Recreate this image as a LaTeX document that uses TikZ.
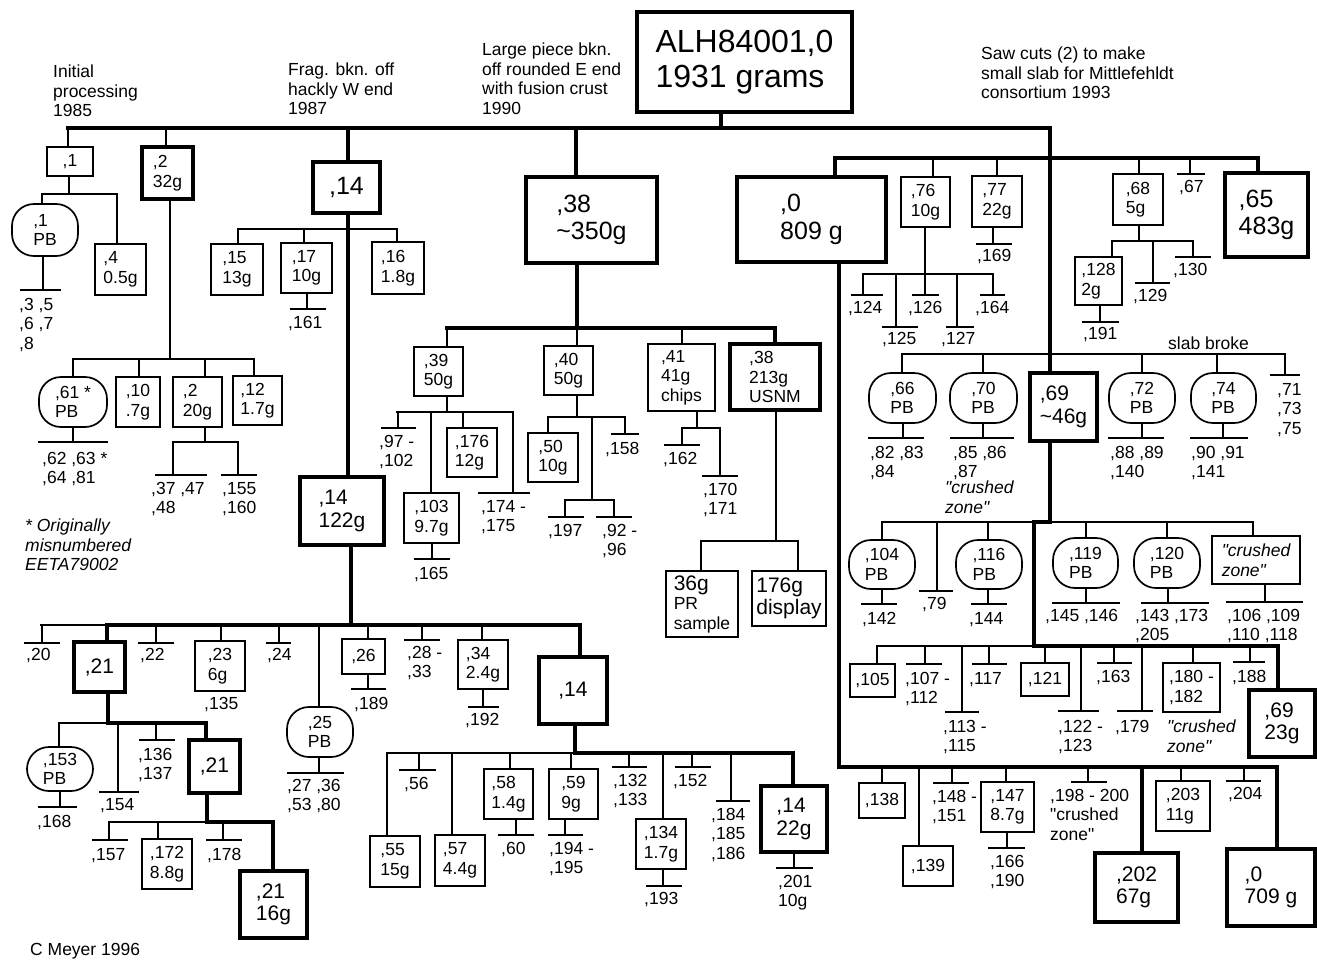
\documentclass[tikz,border=0pt]{standalone}
\usepackage{fontspec}
\setmainfont{Liberation Sans}
\newcommand\fsS{\fontsize{17.5}{19.5}\selectfont}
\newcommand\fsM{\fontsize{21}{22.5}\selectfont}
\newcommand\fsL{\fontsize{25}{27.5}\selectfont}
\newcommand\fsT{\fontsize{32}{35}\selectfont}
\newcommand\qq{\textquotedbl}
\newcommand\mybox[7]{\node[#1,minimum width={(#5)-(#3)},minimum height={(#6)-(#4)}] (#2) at ({(#3+#5)/2},{(#4+#6)/2}) {#7};}
\newcommand\vstem[4][conn]{\draw[#1] (#2,#3) -- (#2,0 |- #4);}
\newcommand\mytee[9]{\draw[conn] (#2,#3) -- (#2,#4) (#5,#4) -- (#6,#4); \node[lbl] (#1) at (#7,#8) {#9};}
\begin{document}
\begin{tikzpicture}[x=1pt,y=-1pt,
  conn/.style={line width=1.8pt,line cap=rect},
  connB/.style={line width=3.6pt,line cap=rect,line join=miter},
  nbox/.style={draw,line width=1.7pt,inner sep=0pt,align=left,font=\fsS},
  tbox/.style={nbox,line width=3.6pt},
  pbox/.style={nbox,rounded corners=22pt},
  lbl/.style={anchor=north west,inner sep=0pt,align=left,font=\fsS}]
\useasboundingbox (0,0) rectangle (1317,959);
% ---------- root and headings
\mybox{tbox,font=\fsT}{root}{637}{12}{852}{112}{ALH84001,0\\1931 grams}
\node[lbl] (h1) at (53,65) {Initial\\processing\\1985};
\node[lbl] (h2) at (288,63) {Frag. bkn. off\\hackly W end\\1987};
\node[lbl] (h3) at (482,43) {Large piece bkn.\\off rounded E end\\with fusion crust\\1990};
\node[lbl] (h4) at (981,47) {Saw cuts (2) to make\\small slab for Mittlefehldt\\consortium 1993};
% ---------- ,1 group
\mybox{nbox}{b1}{47}{147}{93}{176}{,1}
\mybox{pbox}{pb1}{12}{204}{78}{256}{,1\\PB}
\mybox{nbox}{b4}{95}{244}{146}{295}{,4\\0.5g}
% ---------- ,2 group
\mybox{tbox}{b2}{142}{147}{193}{199}{,2\\32g}
\mybox{pbox}{pb61}{39}{377}{107}{427}{,61 *\\PB}
\mybox{nbox}{b10}{116}{377}{160}{427}{,10\\.7g}
\mybox{nbox}{b2b}{173}{377}{222}{427}{,2\\20g}
\mybox{nbox}{b12}{233}{376}{282}{425}{,12\\1.7g}
\node[lbl,font=\fsS\itshape] (note) at (25,519) {* Originally\\misnumbered\\EETA79002};
% ---------- ,14 group
\mybox{tbox,font=\fsL}{b14}{313}{162}{380}{213}{,14}
\mybox{nbox}{b15}{211}{244}{263}{295}{,15\\13g}
\mybox{nbox}{b17}{281}{243}{332}{293}{,17\\10g}
\mybox{nbox}{b16}{372}{242}{424}{294}{,16\\1.8g}
\mybox{tbox,font=\fsM}{b14b}{300}{477}{384}{545}{,14\\122g}
\mybox{tbox,font=\fsM}{b21}{74}{642}{125}{692}{,21}
\mybox{nbox}{b23}{195}{641}{245}{691}{,23\\6g}
\mybox{pbox}{pb25}{287}{707}{353}{757}{,25\\PB}
\mybox{nbox}{b26}{342}{639}{385}{674}{,26}
\mybox{nbox}{b34}{458}{640}{508}{689}{,34\\2.4g}
\mybox{tbox,font=\fsM}{b14c}{539}{657}{607}{724}{,14}
\mybox{pbox}{pb153}{27}{747}{93}{791}{,153\\PB}
\mybox{tbox,font=\fsM}{b21b}{189}{740}{240}{793}{,21}
\mybox{nbox}{b172}{142}{839}{192}{889}{,172\\8.8g}
\mybox{tbox,font=\fsM}{b21c}{240}{871}{307}{938}{,21\\16g}
\mybox{nbox}{b55}{370}{836}{420}{887}{,55\\15g}
\mybox{nbox}{b57}{435}{835}{485}{886}{,57\\4.4g}
\mybox{nbox}{b58}{484}{769}{533}{819}{,58\\1.4g}
\mybox{nbox}{b59}{549}{769}{598}{819}{,59\\9g}
\mybox{nbox}{b134}{636}{819}{686}{869}{,134\\1.7g}
\mybox{tbox,font=\fsM}{b14d}{761}{786}{827}{852}{,14\\22g}
\node[lbl] (cm) at (30,943) {C Meyer 1996};
% ---------- ,38 group
\mybox{tbox,font=\fsL}{b38}{526}{177}{657}{263}{,38\\\textasciitilde350g}
\mybox{nbox}{b39}{414}{347}{463}{396}{,39\\50g}
\mybox{nbox}{b40}{544}{346}{593}{395}{,40\\50g}
\mybox{nbox}{b41}{648}{344}{715}{411}{,41\\41g\\chips}
\mybox{tbox}{b38b}{730}{344}{820}{410}{,38\\213g\\USNM}
\mybox{nbox}{b103}{404}{493}{459}{543}{,103\\9.7g}
\mybox{nbox}{b176}{447}{428}{497}{477}{,176\\12g}
\mybox{nbox}{b50}{528}{433}{578}{482}{,50\\10g}
\mybox{nbox}{bpr}{666}{571}{738}{637}{{\fsM 36g}\\PR\\sample}
\mybox{nbox,font=\fsM}{bdisp}{752}{571}{826}{626}{176g\\display}
% ---------- right group
\mybox{tbox,font=\fsL}{b0}{737}{177}{886}{262}{,0\\809 g}
\mybox{nbox}{b76}{901}{177}{950}{227}{,76\\10g}
\mybox{nbox}{b77}{972}{176}{1022}{227}{,77\\22g}
\mybox{nbox}{b68}{1113}{174}{1163}{225}{,68\\5g}
\mybox{tbox,font=\fsL}{b65}{1225}{173}{1308}{257}{,65\\483g}
\mybox{nbox}{b128}{1075}{257}{1122}{305}{,128\\2g}
\node[lbl] (slab) at (1168,337) {slab broke};
\mybox{pbox}{pb66}{869}{373}{936}{423}{,66\\PB}
\mybox{pbox}{pb70}{950}{373}{1017}{423}{,70\\PB}
\node[lbl,font=\fsS\itshape] (cz1) at (945,481) {\qq crushed\\zone\qq};
\mybox{tbox,font=\fsM}{b69}{1030}{373}{1097}{441}{,69\\\textasciitilde46g}
\mybox{pbox}{pb72}{1109}{373}{1175}{423}{,72\\PB}
\mybox{pbox}{pb74}{1191}{373}{1256}{423}{,74\\PB}
\mybox{pbox}{pb104}{849}{540}{915}{589}{,104\\PB}
\mybox{pbox}{pb116}{956}{540}{1022}{589}{,116\\PB}
\mybox{pbox}{pb119}{1053}{538}{1118}{588}{,119\\PB}
\mybox{pbox}{pb120}{1134}{538}{1200}{588}{,120\\PB}
\mybox{nbox,font=\fsS\itshape}{bcz}{1212}{536}{1300}{584}{\qq crushed\\zone\qq}
\mybox{nbox}{b105}{850}{664}{895}{697}{,105}
\mybox{nbox}{b121}{1021}{663}{1069}{696}{,121}
\mybox{nbox}{b180}{1163}{663}{1220}{712}{,180 -\\,182}
\node[lbl,font=\fsS\itshape] (cz2) at (1167,720) {\qq crushed\\zone\qq};
\mybox{tbox,font=\fsM}{b69b}{1249}{690}{1315}{757}{,69\\23g}
\mybox{nbox}{b138}{859}{783}{905}{818}{,138}
\mybox{nbox}{b139}{903}{846}{953}{886}{,139}
\mybox{nbox}{b147}{981}{782}{1034}{832}{,147\\8.7g}
\mybox{tbox,font=\fsM}{b202}{1095}{853}{1178}{922}{,202\\67g}
\mybox{nbox}{b203}{1156}{781}{1210}{831}{,203\\11g}
\mybox{tbox,font=\fsM}{b0b}{1227}{849}{1315}{926}{,0\\709 g}
% ================= connectors
\draw[connB] (721,0 |- root.south) -- (721,128);
\draw[connB] (68,128) -- (1050,128) -- (1050,0 |- b69.north);
% ,1
\vstem{68}{128}{b1.north}
\draw[conn] (69,0 |- b1.south) -- (69,194);
\draw[conn] (42,0 |- pb1.north) -- (42,194) -- (117,194) -- (117,0 |- b4.north);
\mytee{t3}{43}{256}{290}{21}{60}{19}{298}{,3 ,5\\,6 ,7\\,8}
% ,2
\vstem{166}{128}{b2.north}
\vstem{170}{359}{b2.south}
\draw[conn] (73,359) -- (254,359);
\vstem{73}{359}{pb61.north}
\vstem{139}{359}{b10.north}
\vstem{205}{359}{b2b.north}
\vstem{254}{359}{b12.north}
\mytee{t62}{73}{427}{442}{39}{107}{42}{452}{,62 ,63 *\\,64 ,81}
\vstem{205}{442}{b2b.south}
\draw[conn] (173,442) -- (238,442);
\mytee{t37}{173}{442}{475}{156}{206}{151}{482}{,37 ,47\\,48}
\mytee{t155}{238}{442}{475}{222}{256}{222}{482}{,155\\,160}
% ,14 top
\vstem[connB]{348}{128}{b14.north}
\draw[connB] (348,0 |- b14.south) -- (348,0 |- b14b.north);
\draw[conn] (238,229) -- (397,229);
\vstem{238}{229}{b15.north}
\vstem{304}{229}{b17.north}
\vstem{397}{229}{b16.north}
\mytee{t161}{307}{293}{309}{291}{325}{288}{316}{,161}
% ,14 122g children
\draw[connB] (351,0 |- b14b.south) -- (351,625);
\draw[conn] (41,625) -- (107,625);
\draw[connB] (107,0 |- b21.north) -- (107,625) -- (580,625) -- (580,0 |- b14c.north);
\mytee{t20}{42}{625}{643}{25}{59}{26}{648}{,20}
\mytee{t22}{156}{625}{643}{139}{173}{140}{648}{,22}
\vstem{221}{625}{b23.north}
\node[lbl] (t135) at (204,697) {,135};
\mytee{t24}{279}{625}{643}{267}{290}{267}{648}{,24}
\vstem{319}{625}{pb25.north}
\mytee{t27}{319}{757}{773}{288}{343}{287}{779}{,27 ,36\\,53 ,80}
\vstem{368}{625}{b26.north}
\mytee{t189}{368}{674}{689}{352}{385}{354}{697}{,189}
\mytee{t28}{422}{625}{640}{405}{439}{407}{646}{,28 -\\,33}
\vstem{482}{625}{b34.north}
\mytee{t192}{483}{689}{707}{469}{498}{465}{713}{,192}
% under ,21
\draw[conn] (59,0 |- pb153.north) -- (59,723) -- (108,723);
\draw[connB] (108,0 |- b21.south) -- (108,723) -- (206,723) -- (206,0 |- b21b.north);
\mytee{t168}{60}{791}{807}{39}{76}{37}{815}{,168}
\mytee{t154}{118}{723}{792}{100}{138}{100}{798}{,154}
\mytee{t136}{156}{723}{740}{140}{174}{138}{748}{,136\\,137}
\draw[conn] (109,822) -- (207,822);
\draw[connB] (207,0 |- b21b.south) -- (207,822) -- (273,822) -- (273,0 |- b21c.north);
\mytee{t157}{109}{822}{840}{93}{127}{91}{848}{,157}
\vstem{158}{822}{b172.north}
\mytee{t178}{223}{822}{840}{207}{241}{207}{848}{,178}
% under lower ,14
\draw[connB] (575,0 |- b14c.south) -- (575,753) -- (793,753) -- (793,0 |- b14d.north);
\draw[conn] (387,0 |- b55.north) -- (387,753) -- (575,753);
\mytee{t56}{419}{753}{770}{400}{435}{404}{777}{,56}
\vstem{452}{753}{b57.north}
\vstem{510}{753}{b58.north}
\mytee{t60}{516}{819}{835}{499}{533}{501}{842}{,60}
\vstem{571}{753}{b59.north}
\mytee{t194}{565}{819}{835}{549}{582}{549}{842}{,194 -\\,195}
\mytee{t132}{629}{753}{767}{613}{646}{613}{774}{,132\\,133}
\vstem{663}{753}{b134.north}
\mytee{t193}{663}{869}{886}{647}{681}{644}{892}{,193}
\mytee{t152}{692}{753}{767}{676}{710}{673}{774}{,152}
\mytee{t184}{731}{753}{801}{717}{749}{711}{808}{,184\\,185\\,186}
\mytee{t201}{794}{852}{868}{777}{812}{778}{875}{,201\\10g}
% ,38 branch
\vstem[connB]{576}{128}{b38.north}
\draw[connB] (577,0 |- b38.south) -- (577,328);
\draw[connB] (447,328) -- (775,328) -- (775,0 |- b38b.north);
\vstem{447}{328}{b39.north}
\vstem{577}{328}{b40.north}
\vstem{682}{328}{b41.north}
\vstem{447}{412}{b39.south}
\draw[conn] (397,412) -- (513,412);
\mytee{t97}{398}{412}{428}{382}{415}{379}{435}{,97 -\\,102}
\vstem{431}{412}{b103.north}
\mytee{t165}{432}{543}{559}{415}{449}{414}{567}{,165}
\vstem{463}{412}{b176.north}
\mytee{t174}{513}{412}{493}{479}{529}{481}{500}{,174 -\\,175}
\vstem{577}{417}{b40.south}
\draw[conn] (548,417) -- (625,417);
\vstem{548}{417}{b50.north}
\draw[conn] (592,417) -- (592,500) (565,500) -- (614,500);
\mytee{t197}{565}{500}{517}{549}{583}{548}{524}{,197}
\mytee{t92}{614}{500}{517}{597}{631}{602}{524}{,92 -\\,96}
\mytee{t158}{625}{417}{434}{612}{638}{605}{442}{,158}
\vstem{697}{428}{b41.south}
\draw[conn] (682,428) -- (720,428);
\mytee{t162}{682}{428}{445}{665}{699}{663}{452}{,162}
\mytee{t170}{720}{428}{476}{703}{737}{703}{483}{,170\\,171}
\vstem{776}{541}{b38b.south}
\draw[conn] (701,0 |- bpr.north) -- (701,541) -- (798,541) -- (798,0 |- bdisp.north);
% right group
\draw[connB] (835,0 |- b0.north) -- (835,158) -- (1258,158) -- (1258,0 |- b65.north);
\vstem{933}{158}{b76.north}
\vstem{997}{158}{b77.north}
\mytee{t169}{993}{227}{244}{977}{1011}{977}{249}{,169}
\vstem{925}{274}{b76.south}
\draw[conn] (863,274) -- (993,274);
\mytee{t124}{863}{274}{295}{852}{882}{848}{301}{,124}
\mytee{t125}{896}{274}{327}{883}{917}{882}{332}{,125}
\mytee{t126}{925}{274}{295}{913}{938}{908}{301}{,126}
\mytee{t127}{957}{274}{327}{947}{973}{941}{332}{,127}
\mytee{t164}{993}{274}{295}{981}{1004}{975}{301}{,164}
\vstem{1139}{158}{b68.north}
\mytee{t67}{1190}{158}{174}{1178}{1204}{1179}{180}{,67}
\vstem{1139}{241}{b68.south}
\draw[conn] (1112,241) -- (1193,241);
\vstem{1112}{241}{b128.north}
\mytee{t191}{1100}{305}{322}{1083}{1118}{1083}{327}{,191}
\mytee{t129}{1153}{241}{283}{1136}{1169}{1133}{289}{,129}
\mytee{t130}{1193}{241}{257}{1176}{1210}{1173}{263}{,130}
% slab
\draw[conn] (902,354) -- (1285,354);
\vstem{902}{354}{pb66.north}
\mytee{t82}{903}{423}{438}{869}{923}{870}{446}{,82 ,83\\,84}
\vstem{983}{354}{pb70.north}
\mytee{t85}{983}{423}{438}{951}{1013}{953}{446}{,85 ,86\\,87}
\vstem{1142}{354}{pb72.north}
\mytee{t88}{1142}{423}{438}{1109}{1163}{1110}{446}{,88 ,89\\,140}
\vstem{1217}{354}{pb74.north}
\mytee{t90}{1223}{423}{438}{1191}{1247}{1191}{446}{,90 ,91\\,141}
\mytee{t71}{1285}{354}{375}{1271}{1299}{1277}{383}{,71\\,73\\,75}
% under ,69
\draw[connB] (1050,0 |- b69.south) -- (1050,522) -- (1034,522) -- (1034,646) -- (1278,646) -- (1278,0 |- b69b.north);
\draw[conn] (882,522) -- (1253,522);
\vstem{882}{522}{pb104.north}
\mytee{t142}{882}{589}{604}{862}{896}{862}{612}{,142}
\mytee{t79}{937}{522}{591}{920}{952}{922}{597}{,79}
\vstem{988}{522}{pb116.north}
\mytee{t144}{988}{589}{604}{972}{1006}{969}{612}{,144}
\vstem{1086}{522}{pb119.north}
\mytee{t145}{1086}{588}{603}{1053}{1119}{1045}{609}{,145 ,146}
\vstem{1167}{522}{pb120.north}
\mytee{t143}{1168}{588}{603}{1142}{1208}{1135}{609}{,143 ,173\\,205}
\vstem{1253}{522}{bcz.north}
\mytee{t106}{1265}{584}{602}{1227}{1302}{1227}{609}{,106 ,109\\,110 ,118}
% row y=646
\draw[conn] (877,646) -- (1034,646);
\vstem{877}{646}{b105.north}
\mytee{t107}{925}{646}{664}{907}{941}{905}{672}{,107 -\\,112}
\mytee{t113}{962}{646}{712}{946}{978}{943}{720}{,113 -\\,115}
\mytee{t117}{989}{646}{664}{973}{1006}{969}{672}{,117}
\vstem{1045}{646}{b121.north}
\mytee{t122}{1081}{646}{711}{1059}{1098}{1058}{720}{,122 -\\,123}
\mytee{t163}{1114}{646}{663}{1098}{1131}{1096}{670}{,163}
\mytee{t179}{1142}{646}{711}{1118}{1152}{1115}{720}{,179}
\vstem{1193}{646}{b180.north}
\mytee{t188}{1250}{646}{662}{1234}{1264}{1232}{670}{,188}
% bottom row
\draw[connB] (839,0 |- b0.south) -- (839,767) -- (1277,767) -- (1277,0 |- b0b.north);
\vstem{882}{767}{b138.north}
\vstem{919}{767}{b139.north}
\mytee{t148}{952}{767}{783}{934}{968}{932}{790}{,148 -\\,151}
\vstem{1006}{767}{b147.north}
\mytee{t166}{1007}{832}{848}{989}{1024}{990}{855}{,166\\,190}
\mytee{t198}{1088}{767}{782}{1072}{1106}{1050}{789}{,198 - 200\\\qq crushed\\zone\qq}
\vstem[connB]{1142}{767}{b202.north}
\vstem{1181}{767}{b203.north}
\mytee{t204}{1244}{767}{781}{1227}{1260}{1228}{787}{,204}
\end{tikzpicture}
\end{document}
